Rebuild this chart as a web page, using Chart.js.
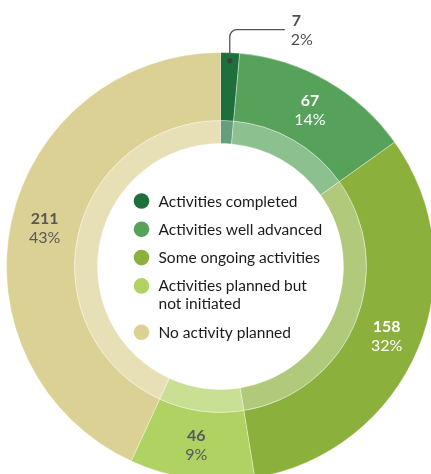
<!DOCTYPE html>
<html>
<head>
<meta charset="utf-8">
<script src="https://cdn.jsdelivr.net/npm/chart.js@4.4.1/dist/chart.umd.min.js"></script>
<style>
  html, body { margin: 0; padding: 0; background: #ffffff; overflow: hidden; width: 431px; height: 474px; }
  #wrap { position: absolute; left: 0; top: 0; width: 440px; height: 490px; }
  canvas { display: block; }
</style>
</head>
<body>
<div id="wrap"><canvas id="chart" width="440" height="490" style="width:440px;height:490px"></canvas></div>
<script>
// Status of planned activities
const categories = [
  'Activities completed',
  'Activities well advanced',
  'Some ongoing activities',
  'Activities planned but\nnot initiated',
  'No activity planned'
];
const counts = [7, 67, 158, 46, 211];
const percentLabels = ['2%', '14%', '32%', '9%', '43%'];

// Palette and text colours for each status
const palette = ['#1e6f3b', '#57a25a', '#8cb03c', '#afd262', '#dcd194'];
const valueTextColors = ['#4f4f51', '#ffffff', '#ffffff', '#58585a', '#58585a'];
const FONT = 'Lato, "Open Sans", sans-serif';

// Lighter tint used on the inner band of the ring
function tint(hex, amount) {
  const n = parseInt(hex.slice(1), 16);
  const r = (n >> 16) & 255, g = (n >> 8) & 255, b = n & 255;
  const mix = c => Math.round(c + (255 - c) * amount);
  return `rgb(${mix(r)},${mix(g)},${mix(b)})`;
}
const innerPalette = palette.map(c => tint(c, 0.32));

const segmentLabels = {
  id: 'segmentLabels',
  afterDatasetsDraw(chart) {
    const ctx = chart.ctx;
    const meta = chart.getDatasetMeta(0);
    ctx.save();
    meta.data.forEach((arc, i) => {
      const count = String(counts[i]);
      const pct = percentLabels[i];
      ctx.fillStyle = valueTextColors[i];
      if (i === 0) {
        // small slice: leader line out to the label
        const a = (arc.startAngle + arc.endAngle) / 2;
        const r = arc.outerRadius - 8;
        const px = arc.x + Math.cos(a) * r;
        const py = arc.y + Math.sin(a) * r;
        const topY = py - 31;
        ctx.strokeStyle = '#555557';
        ctx.lineWidth = 1.3;
        ctx.beginPath();
        ctx.moveTo(px, py);
        ctx.lineTo(px, topY + 7);
        ctx.arcTo(px, topY, px + 7, topY, 7);
        ctx.lineTo(px + 55, topY);
        ctx.stroke();
        ctx.fillStyle = '#3f3f41';
        ctx.beginPath();
        ctx.arc(px, py, 2.6, 0, Math.PI * 2);
        ctx.fill();
        ctx.fillStyle = valueTextColors[i];
        ctx.textAlign = 'left';
        ctx.textBaseline = 'middle';
        ctx.font = 'bold 16px ' + FONT;
        ctx.fillText(count, px + 62, topY - 9);
        ctx.font = '16px ' + FONT;
        ctx.fillText(pct, px + 61, topY + 10);
      } else {
        const p = arc.tooltipPosition();
        ctx.textAlign = 'center';
        ctx.textBaseline = 'middle';
        ctx.font = 'bold 16px ' + FONT;
        ctx.fillText(count, p.x, p.y - 9);
        ctx.font = '16px ' + FONT;
        ctx.fillText(pct, p.x, p.y + 10);
      }
    });

    // legend in the centre of the ring
    const cx = meta.data[0].x, cy = meta.data[0].y;
    const dotX = cx - 79, textX = cx - 62;
    let y = cy - 65.5;
    ctx.textAlign = 'left';
    ctx.textBaseline = 'alphabetic';
    ctx.font = '15.5px ' + FONT;
    categories.forEach((label, i) => {
      ctx.fillStyle = palette[i];
      ctx.beginPath();
      ctx.arc(dotX, y, 7.8, 0, Math.PI * 2);
      ctx.fill();
      ctx.fillStyle = '#1a1a1a';
      const lines = label.split('\n');
      lines.forEach((line, k) => ctx.fillText(line, textX, y + 5.5 + k * 18));
      y += 28.3 + (lines.length - 1) * 18;
    });
    ctx.restore();
  }
};

new Chart(document.getElementById('chart'), {
  type: 'doughnut',
  data: {
    labels: categories,
    datasets: [
      {
        data: counts,
        backgroundColor: palette,
        borderColor: 'rgba(255,255,255,0.35)',
        borderWidth: 1,
        weight: 68
      },
      {
        data: counts,
        backgroundColor: innerPalette,
        borderColor: 'rgba(255,255,255,0.35)',
        borderWidth: 1,
        weight: 23
      }
    ]
  },
  options: {
    responsive: false,
    animation: false,
    cutout: 123,
    layout: { padding: { left: 6, top: 52, right: 5, bottom: 9 } },
    plugins: {
      legend: { display: false },
      tooltip: { enabled: false }
    }
  },
  plugins: [segmentLabels]
});
</script>
</body>
</html>
